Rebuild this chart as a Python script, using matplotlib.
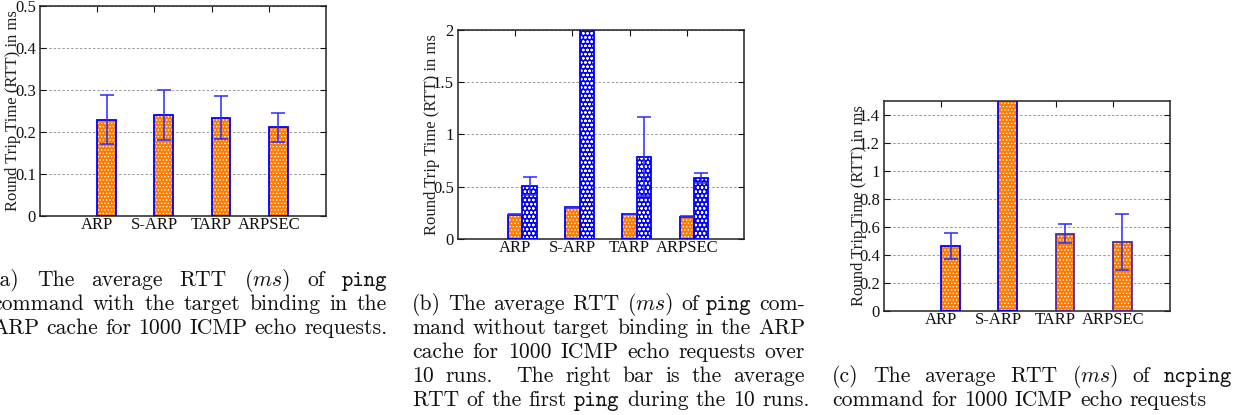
import matplotlib
matplotlib.use('Agg')
import matplotlib.pyplot as plt

plt.rcParams['font.family'] = ['Liberation Serif', 'DejaVu Serif']
plt.rcParams['mathtext.fontset'] = 'cm'
plt.rcParams['hatch.linewidth'] = 0.6

W, H = 1242, 415

categories = ['ARP', 'S-ARP', 'TARP', 'ARPSEC']

# (a) ping, target binding in the ARP cache
a_mean = [0.229, 0.241, 0.234, 0.211]
a_err = [0.058, 0.059, 0.051, 0.034]

# (b) ping without binding: average over runs / first ping of the runs
b_avg = [0.232, 0.305, 0.240, 0.212]
b_avg_err = [0.004, 0.006, 0.004, 0.004]
b_first = [0.507, 2.4, 0.788, 0.584]   # S-ARP goes off the chart
b_first_err = [0.090, 0.0, 0.380, 0.050]

# (c) ncping
c_mean = [0.462, 1.9, 0.553, 0.493]    # S-ARP goes off the chart
c_err = [0.094, 0.0, 0.065, 0.198]

ORANGE = '#ff7a00'
BLUE = '#0000ff'
PURPLE = '#5b2a96'
FS = 12

fig = plt.figure(figsize=(W / 100, H / 100), dpi=100)


def make_axes(left, top, right, bottom):
    return fig.add_axes([left / W, 1 - bottom / H, (right - left) / W, (bottom - top) / H])


def style(ax, yticks, ylabels, ylim, labelx):
    ax.set_xlim(0, 5)
    ax.set_ylim(*ylim)
    ax.set_xticks([1, 2, 3, 4], categories)
    ax.set_yticks(yticks, ylabels)
    ax.set_axisbelow(True)
    ax.yaxis.grid(True, linestyle=(0, (2.5, 2)), color='#999999', linewidth=0.7)
    ax.tick_params(direction='in', length=4, width=0.8, top=True, right=True,
                   labelsize=FS, colors='#111111')
    ax.tick_params(axis='x', pad=0.5)
    ax.tick_params(axis='y', pad=3)
    for s in ax.spines.values():
        s.set_linewidth(1.1)
        s.set_color('#222222')
    ax.text(labelx, 0.5, 'Round Trip Time (RTT) in ms', transform=ax.transAxes,
            rotation=90, ha='center', va='center', fontsize=FS, color='#222222')


def hatched(ax, x, h, w, face, edges, hatch):
    ax.bar(x, h, w, align='edge', color=face, edgecolor='white', hatch=hatch,
           linewidth=0, zorder=2)
    ax.bar(x, h, w, align='edge', facecolor='none', edgecolor=edges,
           linewidth=1.3, zorder=3)


def errs(ax, x, m, e):
    ax.errorbar(x, m, yerr=e, fmt='none', ecolor='#2a2aff', elinewidth=1.1,
                capsize=5, capthick=1.1, zorder=4)


pos = [1, 2, 3, 4]

# (a)
ax1 = make_axes(40, 6, 326, 216)
hatched(ax1, pos, a_mean, 0.33, ORANGE, BLUE, '.....')
errs(ax1, [p + 0.165 for p in pos], a_mean, a_err)
style(ax1, [0, 0.1, 0.2, 0.3, 0.4, 0.5], ['0', '0.1', '0.2', '0.3', '0.4', '0.5'],
      (0, 0.5), -27 / 286)

# (b)
ax2 = make_axes(458, 30, 744, 239)
hatched(ax2, [p - 0.125 for p in pos], b_avg, 0.25, ORANGE, BLUE, '.....')
hatched(ax2, [p + 0.125 for p in pos], b_first, 0.25, BLUE, BLUE, 'oooo')
errs(ax2, pos, b_avg, b_avg_err)
errs(ax2, [p + 0.25 for p in pos], b_first, b_first_err)
style(ax2, [0, 0.5, 1, 1.5, 2], ['0', '0.5', '1', '1.5', '2'], (0, 2), -26 / 286)

# (c)
ax3 = make_axes(884, 101, 1170, 311)
hatched(ax3, pos, c_mean, 0.33, ORANGE, [BLUE, BLUE, PURPLE, PURPLE], '.....')
errs(ax3, [p + 0.165 for p in pos], c_mean, c_err)
style(ax3, [0, 0.2, 0.4, 0.6, 0.8, 1, 1.2, 1.4],
      ['0', '0.2', '0.4', '0.6', '0.8', '1', '1.2', '1.4'], (0, 1.5), -25 / 286)

# captions, set like justified LaTeX lines
CAP = 15.6
TT = {'ping', 'ncping'}
renderer = fig.canvas.get_renderer()


def caption(lines, x0, x1, y0, step):
    for k, (line, justify) in enumerate(lines):
        yb = 1 - (y0 + k * step) / H
        objs = []
        for word in line.split(' '):
            fam = 'cmtt10' if word in TT else 'cmr10'
            objs.append(fig.text(0, yb, word, family=fam, size=CAP, va='baseline',
                                 color='#111111'))
        widths = [o.get_window_extent(renderer).width for o in objs]
        if justify:
            gap = (x1 - x0 - sum(widths)) / (len(objs) - 1)
        else:
            gap = 0.333 * CAP * 100 / 72
        x = x0
        for o, w in zip(objs, widths):
            o.set_x(x / W)
            x += w + gap


caption([('(a) The average RTT ($ms$) of ping', True),
         ('command with the target binding in the', True),
         ('ARP cache for 1000 ICMP echo requests.', False)], -8, 387, 286, 24)
caption([('(b) The average RTT ($ms$) of ping com-', True),
         ('mand without target binding in the ARP', True),
         ('cache for 1000 ICMP echo requests over', True),
         ('10 runs.  The right bar is the average', True),
         ('RTT of the first ping during the 10 runs.', False)], 412, 805, 310, 24)
caption([('(c) The average RTT ($ms$) of ncping', True),
         ('command for 1000 ICMP echo requests', False)], 832, 1232, 382, 24)

fig.savefig('out.png', dpi=100)
